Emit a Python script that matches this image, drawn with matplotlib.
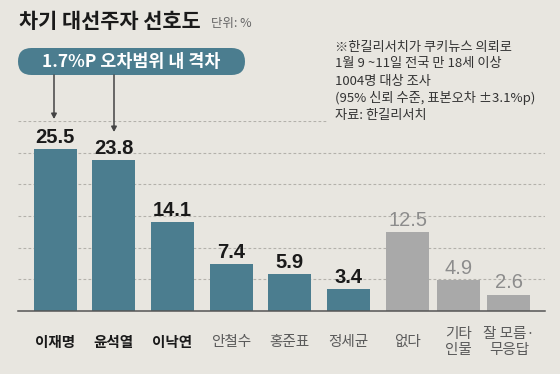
import matplotlib
matplotlib.use("Agg")
import matplotlib.pyplot as plt
from matplotlib.patches import FancyBboxPatch, FancyArrowPatch

plt.rcParams['font.family'] = ['Noto Sans CJK KR', 'DejaVu Sans']

# ---- data ----
categories = ["이재명", "윤석열", "이낙연", "안철수", "홍준표", "정세균", "없다", "기타\n인물", "잘 모름·\n무응답"]
values = [25.5, 23.8, 14.1, 7.4, 5.9, 3.4, 12.5, 4.9, 2.6]
is_candidate = [True, True, True, True, True, True, False, False, False]
bold_names = ["이재명", "윤석열", "이낙연"]
yticks = [5, 10, 15, 20, 25, 30]
title = "차기 대선주자 선호도"
unit = "단위: %"
pill_text = "1.7%P 오차범위 내 격차"
note_lines = ["※한길리서치가 쿠키뉴스 의뢰로", "1월 9 ~11일 전국 만 18세 이상", "1004명 대상 조사",
              "(95% 신뢰 수준, 표본오차 ±3.1%p)", "자료: 한길리서치"]

# ---- styles ----
BG = "#e8e6e0"
BLUE = "#4b7d8f"
GRAY = "#a9a9a9"
W, H = 560, 374

fig = plt.figure(figsize=(W / 100, H / 100), dpi=100, facecolor=BG)

ax_l, ax_r, ax_top, ax_bot = 18, 545, 121, 311
ax = fig.add_axes([ax_l / W, (H - ax_bot) / H, (ax_r - ax_l) / W, (ax_bot - ax_top) / H])
ax.set_facecolor(BG)
ax.set_xlim(ax_l, ax_r)
ax.set_ylim(0, 30)

# positions along x
xs = []
for i, c in enumerate(is_candidate):
    if c:
        xs.append(55 + 58.7 * i)
    else:
        j = i - sum(is_candidate)
        xs.append(407.5 + 50.7 * j)

# grid
for t in yticks:
    xmax = 327 if t == 30 else ax_r
    ax.plot([ax_l, xmax], [t, t], color="#b3b1ab", lw=0.8, ls=(0, (2.5, 2)), zorder=0)

colors = [BLUE if c else GRAY for c in is_candidate]
ax.bar(xs, values, width=43, color=colors, edgecolor="none", zorder=2)
ax.plot([ax_l, ax_r], [0, 0], color="#555555", lw=1.1, zorder=3, clip_on=False)

for x, v, c in zip(xs, values, is_candidate):
    ax.annotate(f"{v}", (x, v), xytext=(0, 1.5), textcoords="offset points",
                ha="center", va="bottom", fontsize=14.5,
                family=["Liberation Sans", "DejaVu Sans"],
                fontweight="bold" if c else "normal",
                color="#1a1a1a" if c else "#8c8c8c")

ax.set_xticks([])
ax.set_yticks([])
for s in ax.spines.values():
    s.set_visible(False)

def fy(y):
    return (H - y) / H

def fx(x):
    return x / W

# category labels
for x, name in zip(xs, categories):
    bold = name in bold_names
    fig.text(fx(x), fy(342), name, ha="center", va="center", fontsize=10.5,
             fontweight="bold" if bold else "normal",
             color="#1a1a1a" if bold else "#5a5a5a", linespacing=1.25)

# title
fig.text(fx(19), fy(22), title, ha="left", va="center", fontsize=15, fontweight="heavy", color="#1a1a1a")
fig.text(fx(211), fy(23), unit, ha="left", va="center", fontsize=9, color="#666666")

# pill
pill = FancyBboxPatch((fx(18), fy(75)), fx(245 - 18), (75 - 48) / H,
                      boxstyle="round,pad=0,rounding_size=%f" % (13.5 / W),
                      transform=fig.transFigure, facecolor=BLUE, edgecolor="none",
                      mutation_aspect=W / H)
fig.add_artist(pill)
fig.text(fx(131), fy(62), pill_text, ha="center", va="center", fontsize=12.5,
         fontweight="bold", color="white")

# arrows
for x0, y1 in [(54, 119), (114, 132)]:
    fig.add_artist(FancyArrowPatch(
        (fx(x0), fy(75)), (fx(x0), fy(y1)), transform=fig.transFigure,
        arrowstyle="-|>,head_length=3,head_width=1.6", color="#444444", lw=1.1,
        shrinkA=0, shrinkB=0))

# note
for k, line in enumerate(note_lines):
    fig.text(fx(335), fy(47 + 17 * k), line, ha="left", va="center", fontsize=9.5, color="#333333")

fig.savefig("out.png", dpi=100, facecolor=BG)
